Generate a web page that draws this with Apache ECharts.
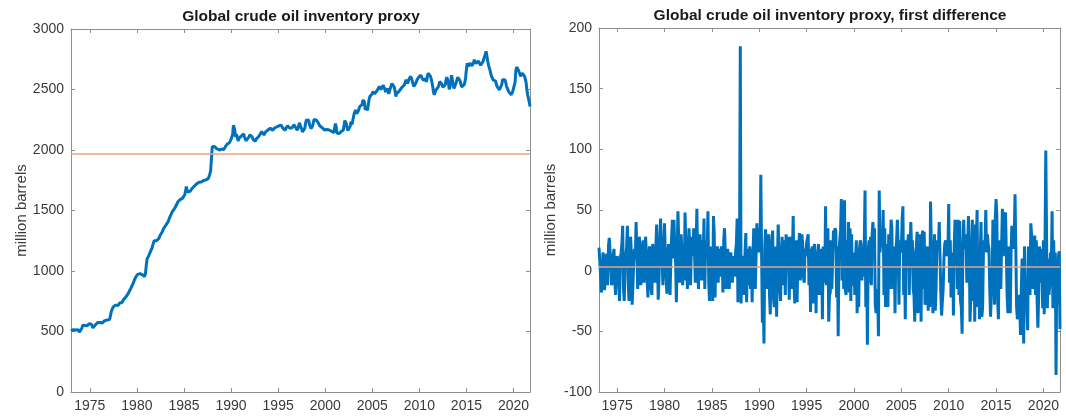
<!DOCTYPE html>
<html>
<head>
<meta charset="utf-8">
<script src="https://cdn.jsdelivr.net/npm/echarts@6/dist/echarts.min.js"></script>
<style>
  html, body { margin: 0; padding: 0; background: #fff; }
  #chart { width: 1066px; height: 419px; }
</style>
</head>
<body>
<div id="chart"></div>
<script>
// Monthly global crude oil inventory proxy (million barrels), Jan 1973 - Oct 2021
const startYear = 1973;
const endYear = 2021.75;

const inventoryLevels = [
  505, 512, 498, 515, 520, 508, 512, 518, 505, 515, 510, 495,         // 1973
  490, 500, 530, 552, 545, 538, 550, 545, 552, 548, 560, 565,         // 1974
  574, 572, 560, 548, 530, 525, 540, 555, 562, 570, 575, 582,         // 1975
  588, 575, 565, 570, 571, 575, 580, 590, 585, 578, 595, 600,         // 1976
  607, 598, 620, 655, 676, 690, 705, 717, 712, 718, 722, 725,         // 1977
  715, 728, 735, 742, 745, 740, 755, 765, 775, 780, 786, 790,         // 1978
  800, 815, 830, 841, 855, 865, 882, 895, 910, 930, 945, 955,         // 1979
  962, 972, 970, 975, 978, 982, 972, 968, 975, 956, 955, 985,         // 1980
  1050, 1100, 1115, 1125, 1140, 1157, 1170, 1185, 1200, 1230, 1250, 1253, // 1981
  1258, 1250, 1258, 1262, 1270, 1285, 1300, 1308, 1320, 1335, 1350, 1363, // 1982
  1370, 1380, 1390, 1396, 1410, 1430, 1445, 1459, 1470, 1490, 1505, 1500, // 1983
  1515, 1530, 1541, 1555, 1570, 1582, 1575, 1590, 1598, 1605, 1600, 1610, // 1984
  1612, 1630, 1660, 1698, 1670, 1651, 1655, 1665, 1660, 1670, 1680, 1679, // 1985
  1690, 1700, 1695, 1710, 1720, 1715, 1725, 1733, 1730, 1740, 1735, 1745, // 1986
  1742, 1748, 1750, 1755, 1753, 1760, 1758, 1765, 1780, 1802, 1830, 1840, // 1987
  2026, 2030, 2036, 2028, 2020, 2015, 2010, 1994, 2005, 2000, 2010, 2008, // 1988
  2008, 2000, 2012, 2005, 2020, 2030, 2035, 2049, 2040, 2055, 2060, 2075, // 1989
  2090, 2099, 2125, 2204, 2185, 2150, 2107, 2130, 2135, 2075, 2095, 2110, // 1990
  2097, 2115, 2105, 2120, 2133, 2110, 2098, 2077, 2090, 2085, 2100, 2115, // 1991
  2124, 2110, 2130, 2108, 2088, 2095, 2080, 2072, 2090, 2085, 2100, 2110, // 1992
  2124, 2130, 2145, 2152, 2140, 2149, 2124, 2135, 2150, 2160, 2155, 2165, // 1993
  2177, 2170, 2180, 2185, 2175, 2163, 2171, 2180, 2175, 2185, 2190, 2188, // 1994
  2193, 2200, 2210, 2215, 2204, 2195, 2180, 2175, 2170, 2163, 2180, 2195, // 1995
  2199, 2190, 2185, 2180, 2175, 2190, 2185, 2200, 2210, 2221, 2205, 2180, // 1996
  2163, 2152, 2190, 2225, 2207, 2195, 2175, 2150, 2138, 2135, 2180, 2220, // 1997
  2249, 2240, 2235, 2246, 2210, 2195, 2177, 2180, 2200, 2230, 2254, 2250, // 1998
  2253, 2245, 2230, 2226, 2210, 2200, 2193, 2190, 2185, 2175, 2170, 2165, // 1999
  2160, 2163, 2170, 2180, 2175, 2165, 2152, 2160, 2155, 2150, 2149, 2144, // 2000
  2150, 2218, 2190, 2140, 2128, 2124, 2135, 2150, 2152, 2160, 2158, 2163, // 2001
  2170, 2243, 2246, 2215, 2180, 2160, 2149, 2144, 2200, 2235, 2210, 2240, // 2002
  2273, 2304, 2290, 2331, 2300, 2315, 2320, 2335, 2359, 2345, 2360, 2375, // 2003
  2414, 2400, 2397, 2331, 2350, 2360, 2329, 2380, 2420, 2442, 2430, 2455, // 2004
  2466, 2483, 2475, 2464, 2470, 2480, 2490, 2480, 2500, 2525, 2510, 2500, // 2005
  2492, 2510, 2535, 2519, 2500, 2480, 2490, 2510, 2495, 2464, 2480, 2510, // 2006
  2530, 2549, 2558, 2540, 2520, 2490, 2442, 2466, 2480, 2470, 2485, 2495, // 2007
  2502, 2510, 2519, 2535, 2525, 2540, 2560, 2580, 2565, 2550, 2570, 2590, // 2008
  2600, 2608, 2590, 2570, 2545, 2525, 2521, 2540, 2560, 2580, 2590, 2600, // 2009
  2613, 2605, 2618, 2600, 2590, 2575, 2566, 2580, 2590, 2563, 2600, 2635, // 2010
  2620, 2632, 2610, 2590, 2560, 2525, 2480, 2456, 2470, 2495, 2511, 2505, // 2011
  2521, 2540, 2566, 2577, 2555, 2540, 2519, 2530, 2508, 2540, 2580, 2602, // 2012
  2590, 2560, 2502, 2520, 2560, 2618, 2580, 2540, 2508, 2519, 2540, 2560, // 2013
  2580, 2602, 2618, 2600, 2570, 2540, 2521, 2511, 2525, 2540, 2560, 2600, // 2014
  2670, 2718, 2690, 2677, 2700, 2718, 2705, 2695, 2704, 2720, 2746, 2732, // 2015
  2715, 2704, 2720, 2735, 2746, 2730, 2700, 2690, 2705, 2730, 2745, 2770, // 2016
  2790, 2815, 2780, 2740, 2704, 2690, 2660, 2630, 2608, 2595, 2580, 2585, // 2017
  2580, 2570, 2560, 2525, 2540, 2520, 2497, 2484, 2510, 2540, 2580, 2575, // 2018
  2565, 2580, 2560, 2530, 2511, 2500, 2480, 2470, 2464, 2456, 2470, 2484, // 2019
  2484, 2500, 2560, 2660, 2685, 2677, 2663, 2649, 2630, 2608, 2620, 2635, // 2020
  2649, 2630, 2610, 2594, 2560, 2500, 2456, 2442, 2400, 2359              // 2021
];

// Month-on-month change (million barrels), Feb 1973 - Oct 2021
const inventoryChanges = [
  19, 8, -4, -18, -10, 15, 12, -16, -6, 10, 14,                       // 1973
  -12, 20, 27, 28, 5, -12, -9, 13, 18, -8, -20, 6,                    // 1974
  12, 8, -10, -25, 10, 15, 22, 37, -15, -25, 5, 12,                   // 1975
  20, 37, -10, -25, 12, 28, 15, -28, -12, 8, 18, 10,                  // 1976
  40, 12, -15, 8, 28, 20, -12, -5, 19, 25, -10, 12,                   // 1977
  28, 15, -8, -22, 10, 20, 12, -15, -20, 22, 15, 5,                   // 1978
  -10, 18, 38, 12, -24, -8, 22, 43, 15, 8, -12, 20,                   // 1979
  39, 12, -5, -19, 10, 22, 15, -20, 8, 28, 42, 10,                    // 1980
  42, 18, 8, -26, 12, 49, 25, -10, 15, 30, 18, -12,                   // 1981
  20, -8, 48, 22, 10, -15, 12, 35, 20, -12, 18, 28,                   // 1982
  12, 35, 15, -10, 22, 51, 8, -15, 18, 30, 12, -8,                    // 1983
  25, 10, 43, -15, 18, 25, 12, 49, -10, -25, 20, 15,                  // 1984
  10, -25, 45, 30, -22, 8, 15, 20, -10, 18, 12, -5,                   // 1985
  20, 12, -18, 25, 35, 15, -15, 12, 18, 8, -15, 10,                   // 1986
  15, 5, -10, 12, 8, -5, 15, 22, 43, -26, 18, 10,                     // 1987
  185, -27, 12, 8, -10, -20, 15, 31, -26, 10, 18, -12,                // 1988
  20, -15, 18, -26, 10, 35, 22, -15, 12, 39, 20, 15,                  // 1989
  35, 20, 79, 12, -43, -20, -60, 20, 34, 15, -15, 12,                 // 1990
  30, -20, -36, 15, 25, 33, -22, -30, 20, 10, -38, 8,                 // 1991
  38, 12, -15, -25, 10, 28, -12, 25, 18, -20, 30, 12,                 // 1992
  28, 10, -24, 15, 28, -15, 12, 45, -10, -27, 18, 25,                 // 1993
  -26, 15, 20, 31, -8, 12, 30, 22, -5, -10, 18, 12,                   // 1994
  23, 22, 30, -12, 18, -34, 10, 20, -27, 15, 22, 8,                   // 1995
  -35, 15, 12, 22, -20, 15, 10, 18, -40, 20, 15, -10,                 // 1996
  53, -12, 30, 35, -42, -20, -18, 25, -15, 10, 33, 28,                // 1997
  35, 33, -22, 20, -54, 15, 25, 33, 59, -8, 20, -15,                  // 1998
  58, -15, -20, 25, -10, 40, -18, 35, -25, 30, -12, -10,              // 1999
  15, -20, 10, 25, -35, -10, -30, 18, 25, 22, -8, 12,                 // 2000
  -5, 20, 66, -30, 20, -61, 15, 25, -10, 28, -12, 30,                 // 2001
  40, 20, 35, -28, -35, -20, -15, -54, 66, 15, 25, 30,                // 2002
  20, 50, -20, 35, -30, 18, 22, -30, 30, -15, 20, 42,                 // 2003
  35, -15, -8, 20, -35, 15, 25, 42, 20, -28, 25, 18,                  // 2004
  15, 42, 53, -20, 12, -40, 25, 20, 22, 30, -20, 15,                  // 2005
  40, 18, 25, -15, -20, -42, 15, 20, 32, -35, 18, 30,                 // 2006
  25, -42, 20, 33, -15, 32, -28, -25, 15, 20, -33, 12,                // 2007
  -30, 57, 20, 25, -35, -20, 30, -33, -15, 20, 25, 20,                // 2008
  40, 12, -18, -37, -25, -15, 10, 22, 25, 18, 12, 15,                 // 2009
  55, -10, 25, -22, -15, 15, -37, 20, 42, 30, 35, -15,                // 2010
  42, -20, 41, -25, -30, -52, 20, 42, 18, 30, 22, -10,                // 2011
  18, 45, 25, -42, -22, -20, 42, -25, 30, -42, 38, 25,                // 2012
  50, -30, 20, -40, 15, 40, -38, -30, 15, 25, 20, 50,                 // 2013
  15, 30, 22, 18, -15, -38, -20, -12, 42, 18, -28, 43,                // 2014
  59, 45, -25, -40, 25, 20, -15, 20, 51, 12, 18, 45,                  // 2015
  48, 15, -20, -35, 20, -25, -35, 15, 37, 30, 18, 25,                 // 2016
  63, 20, -30, -40, -35, -20, -30, -53, -15, 10, -20, -60,            // 2017
  20, -15, -10, -30, -49, 20, 15, -20, 39, 30, 20, -15,               // 2018
  15, 29, -20, 25, -25, -47, -20, 20, -10, 18, 15, -31,               // 2019
  25, -36, 20, 99, 28, -31, 10, -20, -12, 15, 5, 49,                  // 2020
  -31, 25, -23, 15, -86, 10, -28, 12, 16, -48                         // 2021
];

// Sample means drawn as reference lines
const levelMean = 1966;
const changeMean = 3.3;

// Axis ranges
const levelAxis = { min: 0, max: 3000, step: 500 };
const changeAxis = { min: -100, max: 200, step: 50 };
const yearStep = 5;

const titles = [
  'Global crude oil inventory proxy',
  'Global crude oil inventory proxy, first difference'
];
const yName = 'million barrels';

const FONT = '"Liberation Sans", Arial, Helvetica, sans-serif';
const AXIS_GREY = '#8f8f8f';
const TEXT = '#3a3a3a';
const BLUE = '#0072BD';
const ORANGE = '#EFA084';

const grids = [
  { left: 71, top: 29, width: 459, height: 363 },
  { left: 599, top: 28, width: 461, height: 364 }
];

function xAxisPair(gridIndex, min) {
  const base = {
    type: 'value', gridIndex, min, max: endYear,
    splitNumber: 10, minInterval: yearStep, maxInterval: yearStep,
    splitLine: { show: false },
    axisLine: { show: true, onZero: false, lineStyle: { color: AXIS_GREY, width: 1 } },
    axisTick: { show: true, inside: true, length: 4, lineStyle: { color: AXIS_GREY } }
  };
  return [
    Object.assign({}, base, {
      position: 'bottom',
      axisLabel: {
        show: true, formatter: v => String(v), showMinLabel: false, showMaxLabel: false,
        color: TEXT, fontSize: 14, fontFamily: FONT, margin: 7
      }
    }),
    Object.assign({}, base, { position: 'top', axisLabel: { show: false } })
  ];
}

function yAxisPair(gridIndex, range, nameGap) {
  const base = {
    type: 'value', gridIndex, min: range.min, max: range.max, interval: range.step,
    splitLine: { show: false },
    axisLine: { show: true, onZero: false, lineStyle: { color: AXIS_GREY, width: 1 } },
    axisTick: { show: true, inside: true, length: 4, lineStyle: { color: AXIS_GREY } }
  };
  return [
    Object.assign({}, base, {
      position: 'left',
      name: yName, nameLocation: 'middle', nameGap,
      nameTextStyle: { color: TEXT, fontSize: 15, fontFamily: FONT },
      axisLabel: { formatter: v => String(v), color: TEXT, fontSize: 14, fontFamily: FONT, margin: 7 }
    }),
    Object.assign({}, base, { position: 'right', axisLabel: { show: false } })
  ];
}

const levelData = inventoryLevels.map((v, i) => [startYear + i / 12, v]);
const changeData = inventoryChanges.map((v, i) => [startYear + (i + 1) / 12, v]);

function meanLine(value) {
  return {
    silent: true, symbol: 'none', animation: false,
    label: { show: false },
    lineStyle: { color: ORANGE, width: 1.6, type: 'solid' },
    emphasis: { disabled: true },
    data: [{ yAxis: value }]
  };
}

const chart = echarts.init(document.getElementById('chart'), null, { renderer: 'canvas' });

chart.setOption({
  backgroundColor: '#ffffff',
  animation: false,
  grid: grids,
  xAxis: [].concat(xAxisPair(0, startYear), xAxisPair(1, startYear + 1 / 12)),
  yAxis: [].concat(yAxisPair(0, levelAxis, 42), yAxisPair(1, changeAxis, 41)),
  graphic: [
    {
      type: 'text', x: 301, y: 17,
      style: { text: titles[0], font: 'bold 15.5px ' + FONT, fill: '#1a1a1a', align: 'center', verticalAlign: 'middle' }
    },
    {
      type: 'text', x: 830, y: 16,
      style: { text: titles[1], font: 'bold 15.5px ' + FONT, fill: '#1a1a1a', align: 'center', verticalAlign: 'middle' }
    }
  ],
  series: [
    {
      type: 'line', xAxisIndex: 0, yAxisIndex: 0,
      data: levelData, symbol: 'none', silent: true,
      lineStyle: { color: BLUE, width: 3 },
      markLine: meanLine(levelMean)
    },
    {
      type: 'line', xAxisIndex: 2, yAxisIndex: 2,
      data: changeData, symbol: 'none', silent: true,
      lineStyle: { color: BLUE, width: 3 },
      markLine: meanLine(changeMean)
    }
  ]
});
</script>
</body>
</html>
